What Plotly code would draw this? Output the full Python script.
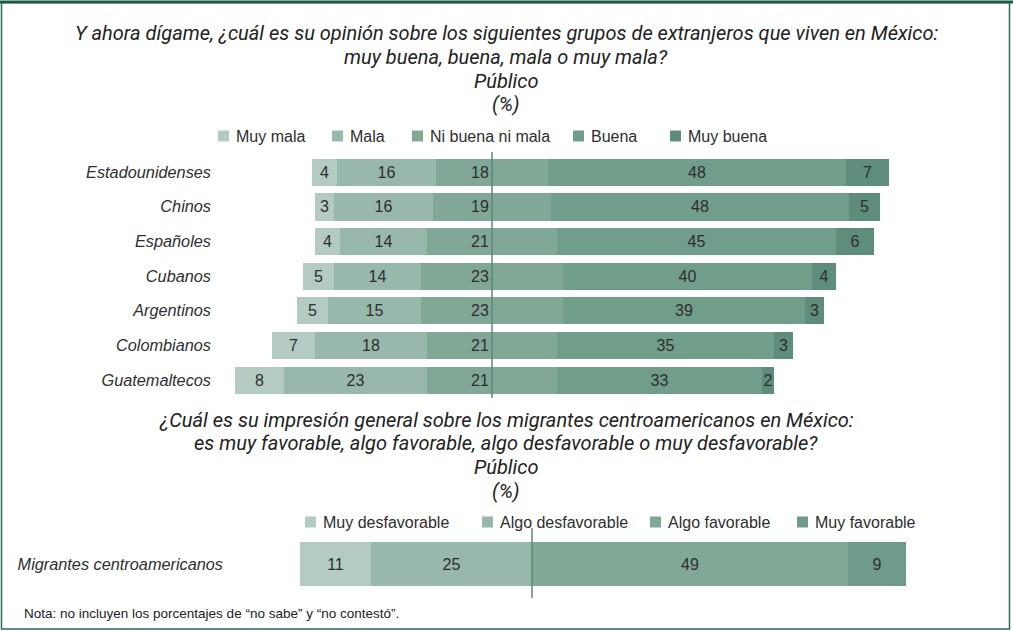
import plotly.graph_objects as go

W, H = 1013, 631

# Top chart data (%)
grupos = ['Estadounidenses', 'Chinos', 'Españoles', 'Cubanos',
          'Argentinos', 'Colombianos', 'Guatemaltecos']
muy_mala = [4, 3, 4, 5, 5, 7, 8]
mala = [16, 16, 14, 14, 15, 18, 23]
ni_buena_ni_mala = [18, 19, 21, 23, 23, 21, 21]
buena = [48, 48, 45, 40, 39, 35, 33]
muy_buena = [7, 5, 6, 4, 3, 3, 2]

# Bottom chart data (%)
migrantes = ['Migrantes centroamericanos']
muy_desfavorable = [11]
algo_desfavorable = [25]
algo_favorable = [49]
muy_favorable = [9]

C1, C2, C3, C4, C5 = '#b3cbc1', '#97b8aa', '#81a897', '#719d8b', '#5f8d7b'
C5b = '#6f9c8a'
TXT = '#2e2e2e'
LINE = '#5b8a77'
SANS = 'Liberation Sans, Arial, sans-serif'

fig = go.Figure()


def px_x(p):
    return p / W


def px_y(p):
    return 1 - p / H


def add_bar(x, y, name, color, text=None, xaxis='x', yaxis='y', anchor='middle'):
    fig.add_trace(go.Bar(
        x=x, y=y, orientation='h', name=name,
        marker=dict(color=color, line=dict(width=0)),
        text=text, textposition='inside', insidetextanchor=anchor,
        textfont=dict(family=SANS, size=16, color=TXT),
        xaxis=xaxis, yaxis=yaxis, showlegend=False,
        width=0.78 if yaxis == 'y' else 0.595,
        hoverinfo='skip',
    ))


half = [v / 2 for v in ni_buena_ni_mala]
# negative side (stacked outward from zero)
add_bar([-h for h in half], grupos, 'Ni buena ni mala', C3, text=ni_buena_ni_mala, anchor='start')
add_bar([-v for v in mala], grupos, 'Mala', C2, text=mala)
add_bar([-v for v in muy_mala], grupos, 'Muy mala', C1, text=muy_mala)
# positive side
add_bar(half, grupos, 'Ni buena ni mala', C3)
add_bar(buena, grupos, 'Buena', C4, text=buena)
add_bar(muy_buena, grupos, 'Muy buena', C5, text=muy_buena)

# bottom chart
add_bar([-v for v in algo_desfavorable], migrantes, 'Algo desfavorable', C2,
        text=algo_desfavorable, xaxis='x2', yaxis='y2')
add_bar([-v for v in muy_desfavorable], migrantes, 'Muy desfavorable', C1,
        text=muy_desfavorable, xaxis='x2', yaxis='y2')
add_bar(algo_favorable, migrantes, 'Algo favorable', C3,
        text=algo_favorable, xaxis='x2', yaxis='y2')
add_bar(muy_favorable, migrantes, 'Muy favorable', C5b,
        text=muy_favorable, xaxis='x2', yaxis='y2')

# axis scales: top 6.204 px per %, zero at px 492; bottom 6.45 px per %, zero at px 532
top_l, bot_l = 216, 231
x1_range = [(top_l - 492) / 6.204, (W - 492) / 6.204]
x2_range = [(bot_l - 532) / 6.45, (W - 532) / 6.45]

axis_font = dict(family=SANS, size=16.3, color=TXT)

fig.update_layout(
    width=W, height=H,
    margin=dict(l=0, r=0, t=0, b=0),
    paper_bgcolor='white', plot_bgcolor='white',
    barmode='relative', bargap=0,
    uniformtext=dict(minsize=16, mode='show'),
    showlegend=False,
    xaxis=dict(domain=[px_x(top_l), 1], range=x1_range, visible=False),
    yaxis=dict(domain=[px_y(397.3), px_y(154.7)], autorange='reversed',
               tickmode='array', tickvals=grupos,
               ticktext=[f'<i>{g}</i>' for g in grupos],
               tickfont=axis_font, showgrid=False, zeroline=False,
               showline=False, ticks='', ticklabelstandoff=4),
    xaxis2=dict(domain=[px_x(bot_l), 1], range=x2_range, visible=False, anchor='y2'),
    yaxis2=dict(domain=[px_y(601), px_y(527)], anchor='x2',
                tickmode='array', tickvals=migrantes,
                ticktext=[f'<i>{m}</i>' for m in migrantes],
                tickfont=axis_font, showgrid=False, zeroline=False,
                showline=False, ticks='', ticklabelstandoff=7),
)

# legends (square + label)
legend_top = [('Muy mala', C1, 218), ('Mala', C2, 332), ('Ni buena ni mala', C3, 412),
              ('Buena', C4, 573), ('Muy buena', C5, 670)]
legend_bot = [('Muy desfavorable', C1, 305), ('Algo desfavorable', C2, 482),
              ('Algo favorable', C3, 650), ('Muy favorable', C5b, 797)]
for items, yc in [(legend_top, 136), (legend_bot, 522)]:
    for nm, col, xs in items:
        fig.add_shape(type='rect', xref='paper', yref='paper',
                      x0=px_x(xs), x1=px_x(xs + 11), y0=px_y(yc + 5.5), y1=px_y(yc - 5.5),
                      fillcolor=col, line=dict(width=0))
        fig.add_annotation(text=nm, xref='paper', yref='paper',
                           x=px_x(xs + 16), y=px_y(yc), xanchor='left', yanchor='middle',
                           showarrow=False, font=dict(family=SANS, size=16, color=TXT))

title_font = dict(family='Roboto, Lato, sans-serif', size=20, color='#222222')
titles = [
    ('Y ahora dígame, ¿cuál es su opinión sobre los siguientes grupos de extranjeros que viven en México:', 33),
    ('muy buena, buena, mala o muy mala?', 57),
    ('Público', 81),
    ('(%)', 104),
    ('¿Cuál es su impresión general sobre los migrantes centroamericanos en México:', 420),
    ('es muy favorable, algo favorable, algo desfavorable o muy desfavorable?', 443),
    ('Público', 467),
    ('(%)', 491),
]
for txt, ypx in titles:
    fig.add_annotation(text=f'<i>{txt}</i>', xref='paper', yref='paper',
                       x=px_x(506), y=px_y(ypx), xanchor='center', yanchor='middle',
                       showarrow=False, font=title_font)

fig.add_annotation(text='Nota: no incluyen los porcentajes de “no sabe” y “no contestó”.',
                   xref='paper', yref='paper', x=px_x(22), y=px_y(613),
                   xanchor='left', yanchor='middle', showarrow=False,
                   font=dict(family=SANS, size=13.5, color='#222222'))

# center lines
fig.add_shape(type='line', xref='x', yref='paper', x0=0, x1=0,
              y0=px_y(152), y1=px_y(398), line=dict(color=LINE, width=1.5))
fig.add_shape(type='line', xref='x2', yref='paper', x0=0, x1=0,
              y0=px_y(528), y1=px_y(598), line=dict(color=LINE, width=1.5))

# frame
fig.add_shape(type='rect', xref='paper', yref='paper',
              x0=px_x(1.5), x1=px_x(1009.5), y0=px_y(629), y1=px_y(2.5),
              line=dict(color='#2a6a50', width=1.5), layer='above')
fig.add_shape(type='line', xref='paper', yref='paper', x0=0, x1=1,
              y0=px_y(2), y1=px_y(2), line=dict(color='#1f5c45', width=3))

fig.write_html("out.html", config={'displayModeBar': False},
               post_script="document.body.style.margin='0';")
